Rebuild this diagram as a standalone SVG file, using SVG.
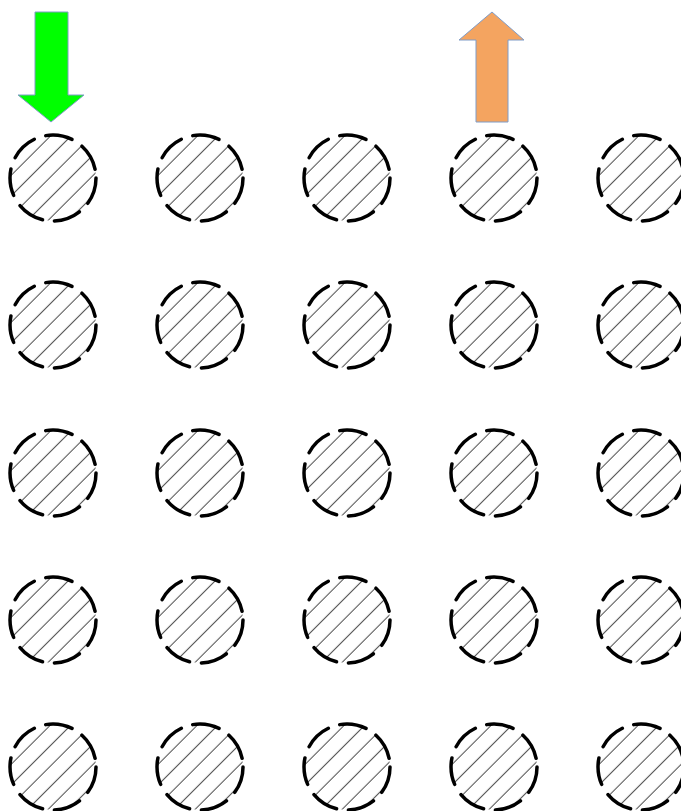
<svg xmlns="http://www.w3.org/2000/svg" xmlns:xlink="http://www.w3.org/1999/xlink" width="681" height="811" viewBox="0 0 681 811">
<style>
.ring{fill:url(#hatch);stroke:#000;stroke-width:3.5;stroke-dasharray:27 12;stroke-linecap:round}
.arrow{stroke:#7f9cc8;stroke-width:1}
</style>
<defs>
<pattern id="hatch" patternUnits="userSpaceOnUse" x="0" y="0" width="14.5" height="14.5" patternTransform="rotate(45)">
<rect width="14.5" height="14.5" fill="#fff"/>
<line x1="12" y1="-1" x2="12" y2="15.5" stroke="#333" stroke-width="0.9"/>
</pattern>
<circle id="c" cx="0" cy="0" r="43" class="ring"/>
</defs>
<rect width="681" height="811" fill="#fff"/>
<g id="arrow-down"><polygon class="arrow" fill="#00ff00" points="35,12 68,12 68,95 84,95 51,122 18,95 35,95"/></g>
<g id="arrow-up"><polygon class="arrow" fill="#f4a460" points="492,12 524,40 508,40 508,122 476,122 476,40 459,40"/></g>
<g id="grid">
<g id="n11" transform="translate(53,178)"><use xlink:href="#c"/></g>
<g id="n12" transform="translate(200,178)"><use xlink:href="#c"/></g>
<g id="n13" transform="translate(347,178)"><use xlink:href="#c"/></g>
<g id="n14" transform="translate(494,178)"><use xlink:href="#c"/></g>
<g id="n15" transform="translate(641,178)"><use xlink:href="#c"/></g>
<g id="n21" transform="translate(53,325)"><use xlink:href="#c"/></g>
<g id="n22" transform="translate(200,325)"><use xlink:href="#c"/></g>
<g id="n23" transform="translate(347,325)"><use xlink:href="#c"/></g>
<g id="n24" transform="translate(494,325)"><use xlink:href="#c"/></g>
<g id="n25" transform="translate(641,325)"><use xlink:href="#c"/></g>
<g id="n31" transform="translate(53,473)"><use xlink:href="#c"/></g>
<g id="n32" transform="translate(200,473)"><use xlink:href="#c"/></g>
<g id="n33" transform="translate(347,473)"><use xlink:href="#c"/></g>
<g id="n34" transform="translate(494,473)"><use xlink:href="#c"/></g>
<g id="n35" transform="translate(641,473)"><use xlink:href="#c"/></g>
<g id="n41" transform="translate(53,620)"><use xlink:href="#c"/></g>
<g id="n42" transform="translate(200,620)"><use xlink:href="#c"/></g>
<g id="n43" transform="translate(347,620)"><use xlink:href="#c"/></g>
<g id="n44" transform="translate(494,620)"><use xlink:href="#c"/></g>
<g id="n45" transform="translate(641,620)"><use xlink:href="#c"/></g>
<g id="n51" transform="translate(53,767)"><use xlink:href="#c"/></g>
<g id="n52" transform="translate(200,767)"><use xlink:href="#c"/></g>
<g id="n53" transform="translate(347,767)"><use xlink:href="#c"/></g>
<g id="n54" transform="translate(494,767)"><use xlink:href="#c"/></g>
<g id="n55" transform="translate(641,767)"><use xlink:href="#c"/></g>
</g>
<g id="connectors"/>
</svg>
